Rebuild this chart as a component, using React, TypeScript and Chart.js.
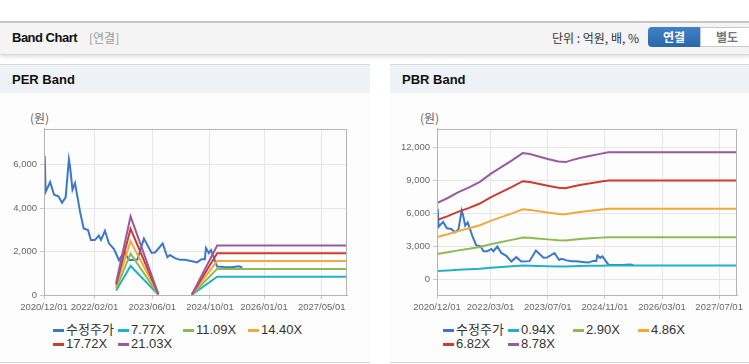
import React, { useEffect, useRef } from "react";
import { Chart, registerables } from "chart.js";
Chart.register(...registerables);

// ---------- data ----------
const seriesNamesPER = ["수정주가", "7.77X", "11.09X", "14.40X", "17.72X", "21.03X"];
const seriesNamesPBR = ["수정주가", "0.94X", "2.90X", "4.86X", "6.82X", "8.78X"];
const seriesColors = ["#3a78cc", "#20b2c6", "#8dbb52", "#f2a93b", "#cf3b30", "#995aa0"];

const perXTickMonths = [0, 14, 30, 46, 61, 77];
const perXTickLabels = ["2020/12/01", "2022/02/01", "2023/06/01", "2024/10/01", "2026/01/01", "2027/05/01"];
const pbrXTickMonths = [0, 15, 31, 47, 63, 79];
const pbrXTickLabels = ["2020/12/01", "2022/03/01", "2023/07/01", "2024/11/01", "2026/03/01", "2027/07/01"];
const perYTicks = [0, 2000, 4000, 6000];
const pbrYTicks = [0, 3000, 6000, 9000, 12000];

// months since 2020/12/01
const priceMonths = [0.2, 0.45, 1.7, 2.8, 4.0, 5.0, 6.0, 6.9, 7.2, 7.9, 8.6, 9.1, 10.0, 11.0, 12.2, 13.0, 14.1, 15.2, 15.8, 16.9, 18.0, 19.4, 20.8, 22.2, 23.6, 25.9, 27.7, 29.8, 30.8, 32.9, 34.2, 34.9, 36.3, 37.7, 39.0, 41.4, 42.4, 43.7, 44.6, 44.9, 45.7, 46.3, 48.0, 50.0, 52.0, 54.0, 55.0];
const priceValues = [6400, 4750, 5200, 4620, 4550, 4250, 4500, 6250, 5950, 4850, 5150, 4680, 3830, 3060, 2990, 2530, 2530, 2740, 2540, 2960, 2380, 2120, 1600, 1990, 1600, 1630, 2600, 1950, 1960, 2370, 1740, 1840, 1700, 1620, 1620, 1540, 1500, 1650, 1650, 2160, 1930, 2070, 1310, 1290, 1280, 1320, 1270];

const perBandMonths = [20, 24, 31.7, 36, 41, 48, 84];
const per777 = [210, 1336, 16, null, 8, 843, 843];
const per1109 = [300, 1907, 22, null, 11, 1203, 1203];
const per1440 = [389, 2477, 29, null, 14, 1562, 1562];
const per1772 = [479, 3048, 35, null, 18, 1923, 1923];
const per2103 = [568, 3617, 42, null, 21, 2282, 2282];

const pbrBandMonths = [0, 3, 6, 9, 12, 15, 18, 21, 24, 26, 28, 31, 34, 36, 38, 40, 43, 46, 48, 84];
const pbr094 = [739, 790, 846, 893, 948, 1025, 1090, 1156, 1227, 1217, 1199, 1170, 1145, 1139, 1161, 1180, 1201, 1222, 1236, 1236];
const pbr290 = [2279, 2436, 2610, 2755, 2923, 3161, 3364, 3567, 3785, 3756, 3698, 3611, 3532, 3515, 3582, 3640, 3706, 3770, 3814, 3814];
const pbr486 = [3820, 4082, 4374, 4617, 4899, 5297, 5638, 5978, 6342, 6294, 6197, 6051, 5919, 5890, 6002, 6099, 6211, 6318, 6391, 6391];
const pbr682 = [5361, 5729, 6138, 6479, 6875, 7434, 7911, 8389, 8900, 8832, 8696, 8491, 8307, 8266, 8423, 8559, 8716, 8866, 8968, 8968];
const pbr878 = [6901, 7375, 7902, 8341, 8850, 9570, 10185, 10799, 11458, 11370, 11195, 10931, 10694, 10641, 10843, 11019, 11221, 11414, 11546, 11546];

const TICK_FONT = "'Liberation Sans', Arial, sans-serif";
const KR_FONT = "'Liberation Sans', 'Noto Sans CJK KR', sans-serif";

const zip = (xs: number[], ys: (number | null)[]) => xs.map((x, i) => ({ x, y: ys[i] }));

const framePlugin = {
  id: "frame",
  afterDraw(chart: any) {
    const { ctx, chartArea: a } = chart;
    ctx.save();
    ctx.strokeStyle = "#b4b4b4";
    ctx.lineWidth = 1;
    ctx.strokeRect(Math.round(a.left) + 0.5, Math.round(a.top) + 0.5, Math.round(a.right - a.left) - 1, Math.round(a.bottom - a.top));
    ctx.restore();
  },
};

type BandChartProps = {
  left: number;
  width: number;
  yAxisWidth: number;
  padRight: number;
  yMin: number;
  yMax: number;
  yTicks: number[];
  xTickMonths: number[];
  xTickLabels: string[];
  bandMonths: number[];
  bands: (number | null)[][];
  names: string[];
};

function BandChart(p: BandChartProps) {
  const ref = useRef<HTMLCanvasElement>(null);
  useEffect(() => {
    if (!ref.current) return;
    const datasets: any[] = [
      {
        label: p.names[0],
        data: zip(priceMonths, priceValues),
        borderColor: seriesColors[0],
        order: 10,
      },
      ...p.bands.map((b, i) => ({
        label: p.names[i + 1],
        data: zip(p.bandMonths, b),
        borderColor: seriesColors[i + 1],
        order: 6 - i,
      })),
    ];
    const chart = new Chart(ref.current, {
      type: "line",
      data: { datasets },
      plugins: [framePlugin],
      options: {
        responsive: false,
        animation: false,
        maintainAspectRatio: false,
        layout: { padding: { top: 8, right: p.padRight, left: 0, bottom: 0 } },
        plugins: { legend: { display: false }, tooltip: { enabled: false } },
        elements: {
          point: { radius: 0, hoverRadius: 0 },
          line: { borderWidth: 2, tension: 0, fill: false },
        },
        spanGaps: false,
        scales: {
          x: {
            type: "linear",
            min: 0,
            max: 84,
            afterBuildTicks: (s: any) => {
              s.ticks = p.xTickMonths.map((v) => ({ value: v }));
            },
            afterFit: (s: any) => {
              s.height = 20;
            },
            ticks: {
              autoSkip: false,
              maxRotation: 0,
              padding: 3,
              color: "#666",
              font: { family: TICK_FONT, size: 9.5 },
              callback: (v: any) => {
                const i = p.xTickMonths.indexOf(Number(v));
                return i >= 0 ? p.xTickLabels[i] : "";
              },
            },
            grid: { color: "#e6e6e6", tickColor: "#c8c8c8", tickLength: 4 },
            border: { color: "#b4b4b4" },
          },
          y: {
            type: "linear",
            min: p.yMin,
            max: p.yMax,
            afterBuildTicks: (s: any) => {
              s.ticks = p.yTicks.map((v) => ({ value: v }));
            },
            afterFit: (s: any) => {
              s.width = p.yAxisWidth;
            },
            ticks: {
              padding: 3,
              color: "#666",
              font: { family: TICK_FONT, size: 9.5 },
              callback: (v: any) => Number(v).toLocaleString("en-US"),
            },
            grid: { color: "#e6e6e6", tickColor: "#c8c8c8", tickLength: 4 },
            border: { color: "#b4b4b4" },
          },
        },
      } as any,
    });
    return () => chart.destroy();
  }, []);
  return (
    <canvas
      ref={ref}
      width={p.width}
      height={195}
      style={{ position: "absolute", left: p.left, top: 120, width: p.width, height: 195 }}
    />
  );
}

function Legend({ left, names }: { left: number; names: string[] }) {
  return (
    <div
      style={{
        position: "absolute",
        left,
        top: 323,
        width: 260,
        display: "flex",
        flexWrap: "wrap",
        fontFamily: KR_FONT,
        fontSize: 13,
        color: "#333",
      }}
    >
      {names.map((n, i) => (
        <div key={n} style={{ width: 65, height: 14, lineHeight: "14px", display: "flex", alignItems: "center", whiteSpace: "nowrap" }}>
          <span style={{ display: "inline-block", width: 11, height: 3, background: seriesColors[i], marginRight: 2 }} />
          <span>{n}</span>
        </div>
      ))}
    </div>
  );
}

function Panel({ left, width, title }: { left: number; width: number; title: string }) {
  return (
    <>
      <div
        style={{
          position: "absolute",
          left,
          top: 64,
          width,
          height: 28,
          background: "#eef2f7",
          borderTop: "1px solid #d8d8d8",
        }}
      />
      <div style={{ position: "absolute", left, top: 93, width, height: 269, background: "#fdfdfd" }} />
      <div style={{ position: "absolute", left, top: 362, width, height: 1, background: "#d6d6d6" }} />
      <div
        style={{
          position: "absolute",
          left: left + 12,
          top: 71,
          fontFamily: "'Liberation Sans', Arial, sans-serif",
          fontWeight: 700,
          fontSize: 13,
          color: "#111",
          lineHeight: "18px",
        }}
      >
        {title}
      </div>
      <div
        style={{
          position: "absolute",
          left: left + 30,
          top: 110,
          fontFamily: "'Noto Sans CJK KR', sans-serif",
          fontSize: 12,
          color: "#666",
          lineHeight: "16px",
        }}
      >
        (원)
      </div>
    </>
  );
}

export default function App() {
  return (
    <div style={{ position: "absolute", left: 0, top: 0, width: 749, height: 364, background: "#fff", overflow: "hidden" }}>
      {/* header bar */}
      <div
        style={{
          position: "absolute",
          left: 0,
          top: 21,
          width: 749,
          height: 31,
          background: "#f4f4f4",
          borderTop: "2px solid #c6c6c6",
          borderBottom: "1px solid #d8d8d8",
          boxShadow: "0 2px 3px rgba(0,0,0,0.12)",
        }}
      />
      <div
        style={{
          position: "absolute",
          left: 12,
          top: 29,
          fontFamily: "'Liberation Sans', Arial, sans-serif",
          fontWeight: 700,
          fontSize: 13,
          letterSpacing: -0.5,
          color: "#111",
          lineHeight: "18px",
        }}
      >
        Band Chart
      </div>
      <div
        style={{
          position: "absolute",
          left: 89,
          top: 30,
          fontFamily: "'Noto Sans CJK KR', sans-serif",
          fontSize: 12,
          color: "#999",
          lineHeight: "16px",
        }}
      >
        [연결]
      </div>
      <div
        style={{
          position: "absolute",
          left: 552,
          top: 30,
          fontFamily: "'Noto Sans CJK KR', sans-serif",
          fontSize: 12,
          color: "#333",
          lineHeight: "16px",
          whiteSpace: "pre",
        }}
      >
        단위 : 억원, 배, %
      </div>
      <div
        style={{
          position: "absolute",
          left: 648,
          top: 27,
          width: 52,
          height: 20,
          background: "linear-gradient(#3f82c8, #2a66aa)",
          borderRadius: "4px 0 0 4px",
          color: "#fff",
          fontFamily: "'Noto Sans CJK KR', sans-serif",
          fontWeight: 700,
          fontSize: 12,
          lineHeight: "20px",
          textAlign: "center",
        }}
      >
        연결
      </div>
      <div
        style={{
          position: "absolute",
          left: 700,
          top: 27,
          width: 52,
          height: 18,
          background: "#fff",
          border: "1px solid #c8c8c8",
          color: "#777",
          fontFamily: "'Noto Sans CJK KR', sans-serif",
          fontWeight: 700,
          fontSize: 12,
          lineHeight: "18px",
          textAlign: "center",
        }}
      >
        별도
      </div>

      <Panel left={0} width={370} title="PER Band" />
      <Panel left={390} width={359} title="PBR Band" />

      <BandChart
        left={0}
        width={370}
        yAxisWidth={44}
        padRight={23}
        yMin={0}
        yMax={7660}
        yTicks={perYTicks}
        xTickMonths={perXTickMonths}
        xTickLabels={perXTickLabels}
        bandMonths={perBandMonths}
        bands={[per777, per1109, per1440, per1772, per2103]}
        names={seriesNamesPER}
      />
      <BandChart
        left={390}
        width={359}
        yAxisWidth={47}
        padRight={12}
        yMin={-1450}
        yMax={13680}
        yTicks={pbrYTicks}
        xTickMonths={pbrXTickMonths}
        xTickLabels={pbrXTickLabels}
        bandMonths={pbrBandMonths}
        bands={[pbr094, pbr290, pbr486, pbr682, pbr878]}
        names={seriesNamesPBR}
      />

      <Legend left={53} names={seriesNamesPER} />
      <Legend left={443} names={seriesNamesPBR} />
    </div>
  );
}
